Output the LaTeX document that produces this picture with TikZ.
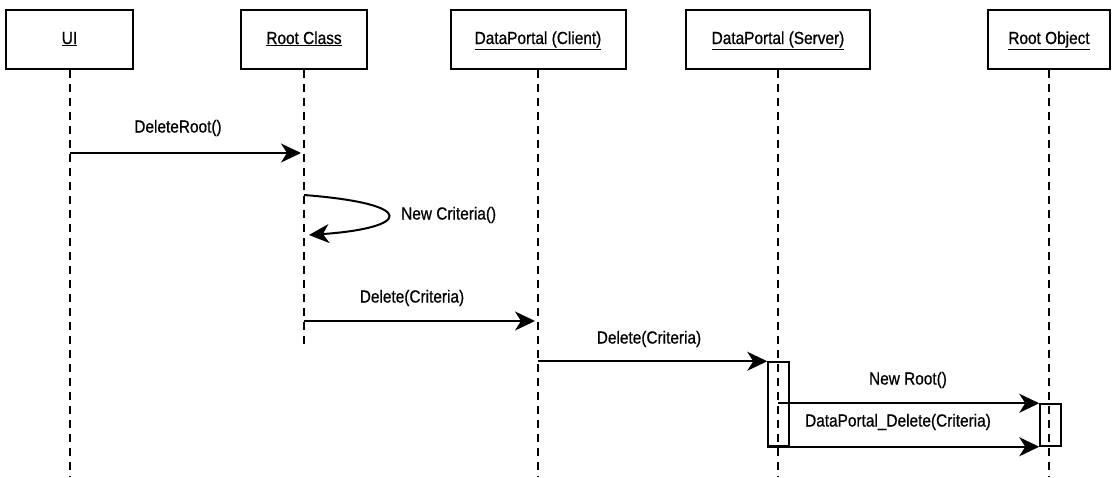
\documentclass[tikz,border=0pt]{standalone}
\usepackage{fontspec}
\setmainfont{Liberation Sans}[FakeStretch=0.88, FakeBold=0.7]
\usetikzlibrary{arrows.meta,positioning,calc}

\begin{document}
\begin{tikzpicture}[
    x=1pt, y=-1pt,
    font=\fontsize{17.5}{20}\selectfont,
    objbox/.style={
        rectangle, draw=black, line width=2pt,
        minimum height=59pt, inner sep=0pt,
        text height=13pt, text depth=4pt
    },
    actbox/.style={
        rectangle, draw=black, line width=1.5pt,
        minimum width=21pt, inner sep=0pt
    },
    lifeline/.style={line width=2pt, dash pattern=on 8pt off 6pt},
    msg/.style={-{Stealth[length=20pt,width=19pt,inset=6pt]}, line width=2pt},
    lbl/.style={inner sep=0pt},
]
\useasboundingbox (0,0) rectangle (1118,477);

% objects
\node[objbox, minimum width=127pt] (ui)  at (69.5,39.5) {\underline{UI}};
\node[objbox, minimum width=126pt] (rc)  at (304,39.5)  {\underline{Root Class}};
\node[objbox, minimum width=175pt] (dpc) at (538,39.5)  {\underline{DataPortal (Client)}};
\node[objbox, minimum width=184pt] (dps) at (778,39.5)  {\underline{DataPortal (Server)}};
\node[objbox, minimum width=122pt] (ro)  at (1049,39.5) {\underline{Root Object}};

% lifelines
\coordinate (bot) at (0,477);
\coordinate (rcend) at (0,348);
\foreach \n in {ui, dpc, dps, ro}
  \draw[lifeline] (\n.south) -- (\n.south |- bot);
\draw[lifeline] (rc.south) -- (rc.south |- rcend);

% activations
\node[actbox, minimum height=84pt] (actS) at (778.5,404) {};
\node[actbox, minimum height=42pt] (actR) at (1050.5,425) {};

% messages
\draw[msg, shorten >=3pt] (ui.south |- 0,153) -- (rc.south |- 0,153);
\node[lbl] (m1) at (178,128) {DeleteRoot()};

\draw[msg] (rc.south |- 0,195) .. controls (420,204) and (410,228) .. ($(rc.south |- 0,235)+(5,0)$);
\node[lbl, anchor=west] (m2) at (401,215) {New Criteria()};

\draw[msg, shorten >=3pt] (rc.south |- 0,321) -- (dpc.south |- 0,321);
\node[lbl] (m3) at (412,298) {Delete(Criteria)};

\draw[msg] (dpc.south |- actS.north) -- (actS.north west);
\node[lbl] (m4) at (649,339) {Delete(Criteria)};

\draw[msg] (dps.south |- actR.north) -- (actR.north west);
\node[lbl] (m5) at (908,380) {New Root()};

\draw[msg] (actS.south west) -- (actR.south west);
\node[lbl] (m6) at (898,422) {DataPortal\_Delete(Criteria)};

\end{tikzpicture}
\end{document}
